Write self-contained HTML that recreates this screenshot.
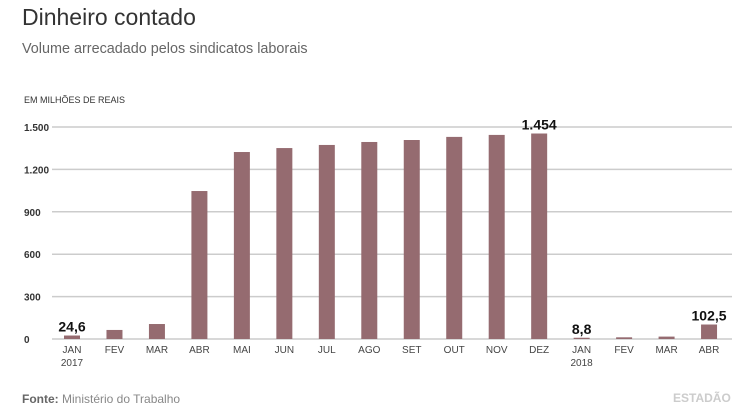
<!DOCTYPE html>
<html><head><meta charset="utf-8"><style>
body{margin:0;width:751px;height:415px;background:#fff;font-family:"Liberation Sans",sans-serif;overflow:hidden;position:relative}
.t{position:absolute;white-space:nowrap}
</style></head><body>
<div class="t" style="left:22px;top:4px;font-size:23px;color:#333">Dinheiro contado</div>
<div class="t" style="left:22px;top:41px;font-size:14.4px;color:#666">Volume arrecadado pelos sindicatos laborais</div>
<div class="t" style="left:24px;top:95px;font-size:9px;color:#333">EM MILHÕES DE REAIS</div>
<svg id="c" width="751" height="415" style="position:absolute;left:0;top:0"></svg>
<div class="t" style="left:22px;top:392px;font-size:12px;color:#888"><b style="color:#666">Fonte:</b> Ministério do Trabalho</div>
<div class="t" style="left:673px;top:391px;font-size:12px;font-weight:bold;color:#ccc">ESTADÃO</div>
<script>
const categories=["JAN","FEV","MAR","ABR","MAI","JUN","JUL","AGO","SET","OUT","NOV","DEZ","JAN","FEV","MAR","ABR"];
const years=["2017","","","","","","","","","","","","2018","","",""];
const values=[24.6,64,106,1047,1323,1351,1373,1394,1408,1430,1444,1454,8.8,12,17,102.5];
const labels=["24,6","","","","","","","","","","","1.454","8,8","","","102,5"];
const ticks=[0,300,600,900,1200,1500];
const tickLabels=["0","300","600","900","1.200","1.500"];
const svg=document.getElementById('c'),NS="http://www.w3.org/2000/svg";
const y=v=>339-v*(212/1500), x=i=>72+i*42.47;
function mk(t,a,txt){const e=document.createElementNS(NS,t);for(const k in a)e.setAttribute(k,a[k]);if(txt!=null)e.textContent=txt;svg.appendChild(e);return e;}
ticks.forEach((t,i)=>{
 const l=mk('line',{x1:52,x2:732,y1:y(t),y2:y(t),stroke:'#ccc','stroke-width':1.5});
 
 
 const tx=mk('text',{x:24,y:y(t)+4,'font-size':10,'font-weight':'bold',fill:'#333'},tickLabels[i]);
 
 
});
values.forEach((v,i)=>{
 const r=mk('rect',{x:x(i)-8,y:y(v),width:16,height:339-y(v),fill:'#956b70'});
 
 
 const c=mk('text',{x:x(i),y:353,'font-size':10,fill:'#444','text-anchor':'middle'},categories[i]);
 
 
 if(years[i]){const yy=mk('text',{x:x(i),y:366,'font-size':10,fill:'#444','text-anchor':'middle'},years[i]);
 
 }
 if(labels[i]){const vl=mk('text',{x:x(i),y:y(v)-4,'font-size':14,'font-weight':'bold',fill:'#111','text-anchor':'middle'},labels[i]);
 
 }
});
</script>
</body></html>
